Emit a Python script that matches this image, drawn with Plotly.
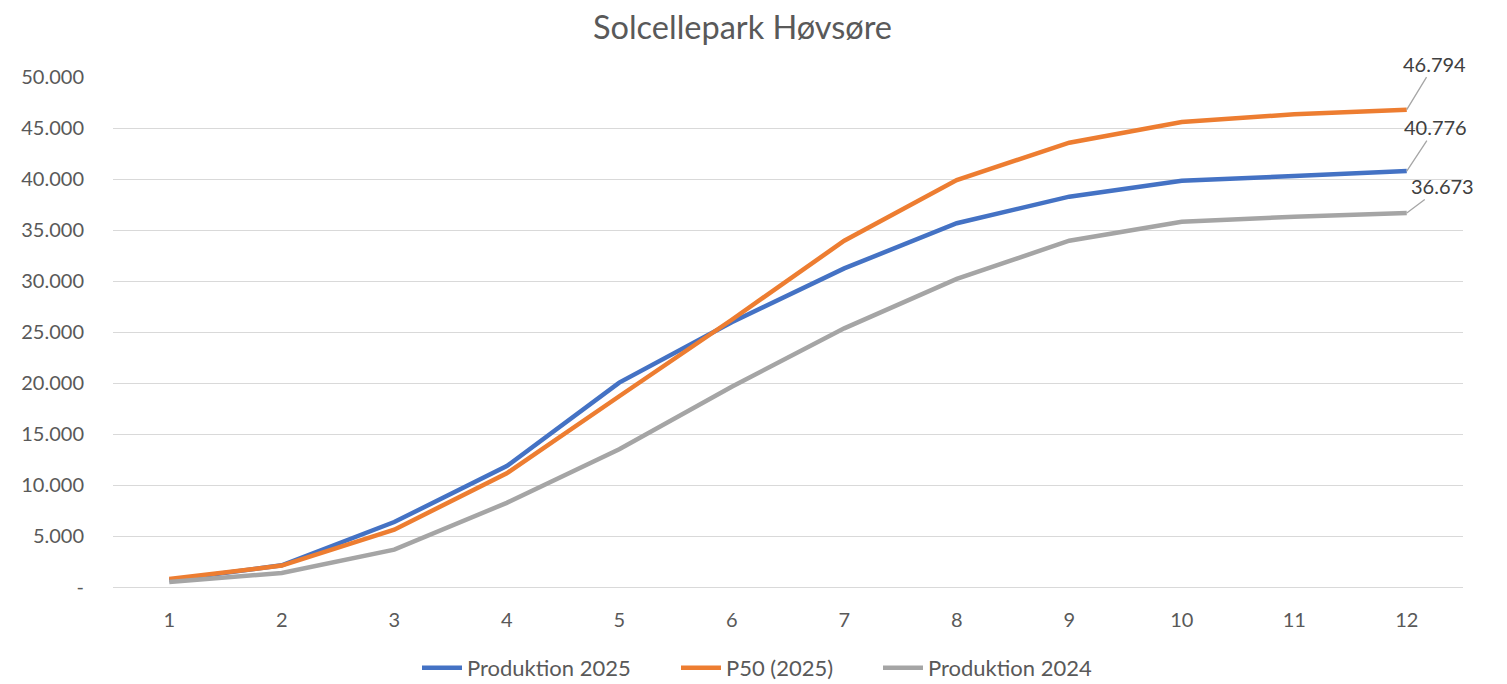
import plotly.graph_objects as go

months = ["1", "2", "3", "4", "5", "6", "7", "8", "9", "10", "11", "12"]
prod_2025 = [650, 2130, 6370, 11850, 20040, 25950, 31240, 35660, 38270, 39830, 40290, 40776]
p50_2025 = [780, 2100, 5620, 11150, 18700, 26200, 33950, 39900, 43560, 45590, 46340, 46794]
prod_2024 = [500, 1370, 3660, 8250, 13500, 19640, 25360, 30200, 33950, 35810, 36310, 36673]

y_tickvals = [0, 5000, 10000, 15000, 20000, 25000, 30000, 35000, 40000, 45000, 50000]
y_ticktext = ["-", "5.000", "10.000", "15.000", "20.000", "25.000", "30.000", "35.000", "40.000", "45.000", "50.000"]

end_labels = ["40.776", "46.794", "36.673"]

FONT = "Lato, 'Open Sans', sans-serif"
TXT = "#595959"

series = [
    ("Produktion 2025", prod_2025, "#4472C4"),
    ("P50 (2025)", p50_2025, "#ED7D31"),
    ("Produktion 2024", prod_2024, "#A5A5A5"),
]

W, H = 1499, 676
L, R, T, B = 105, 44, 69, 97

legend_ids = ["legend", "legend2", "legend3"]
legend_px = [409, 668, 870]   # left edge (figure px) of each legend item

fig = go.Figure()
for (name, vals, col), lid in zip(series, legend_ids):
    fig.add_trace(go.Scatter(x=months, y=vals, name=name, mode="lines",
                             line=dict(color=col, width=4.5), legend=lid))

last_idx = len(months) - 1
offsets = [(29, -44), (28, -46), (36, -27)]
for (name, vals, col), lab, (ax, ay) in zip(series, end_labels, offsets):
    fig.add_annotation(x=last_idx, y=vals[-1], text=lab, showarrow=True,
                       arrowhead=0, arrowwidth=1.3, arrowcolor="#A6A6A6",
                       ax=ax, ay=ay, font=dict(size=20, color="#404040", family=FONT),
                       standoff=0)

leg_common = dict(orientation="h", xref="container", yref="container",
                  yanchor="middle", y=16 / H, xanchor="left",
                  font=dict(size=22, color=TXT, family=FONT), itemwidth=40,
                  bgcolor="rgba(0,0,0,0)")
legends = {}
for lid, px in zip(legend_ids, legend_px):
    legends[lid] = dict(leg_common, x=px / W)

fig.update_layout(
    width=W, height=H,
    margin=dict(l=L, r=R, t=T, b=B, autoexpand=False),
    paper_bgcolor="white", plot_bgcolor="white",
    title=dict(text="Solcellepark Høvsøre", x=0.490, xanchor="center", y=1 - 20 / H, yanchor="middle",
               font=dict(size=32.5, color=TXT, family=FONT)),
    font=dict(family=FONT, color=TXT, size=20),
    showlegend=True,
    xaxis=dict(type="category", range=[-0.5, 11.5], showgrid=False, showline=True,
               linecolor="#D9D9D9", linewidth=1.3, ticks="", tickfont=dict(size=20, color=TXT),
               ticklabelstandoff=15),
    yaxis=dict(range=[0, 50000], tickvals=y_tickvals, ticktext=y_ticktext,
               showgrid=True, gridcolor="#D9D9D9", gridwidth=1.3, zeroline=False,
               showline=False, tickfont=dict(size=20, color=TXT), ticklabelstandoff=28),
    **legends,
)

fig.write_html("out.html")
